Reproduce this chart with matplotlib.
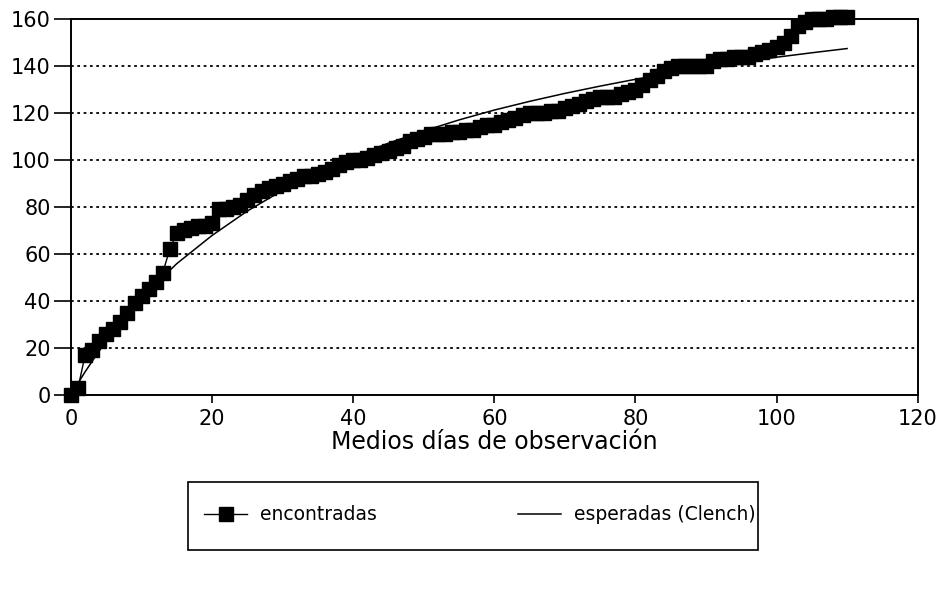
import numpy as np
import matplotlib

matplotlib.use("Agg")
import matplotlib.pyplot as plt
from matplotlib.patches import Rectangle

days = np.arange(0, 111)
found = [
    0, 3, 17, 19, 23, 26, 28, 31, 35, 39,
    42, 45, 48, 52, 62, 69, 70, 71, 72, 72,
    73, 79, 79, 80, 81, 83, 85, 87, 88, 89,
    90, 91, 92, 93, 93, 94, 95, 96, 98, 99,
    100, 100, 101, 102, 103, 104, 105, 106, 108, 109,
    110, 111, 111, 111, 112, 112, 113, 113, 114, 115,
    115, 116, 117, 118, 119, 120, 120, 120, 121, 121,
    122, 123, 124, 125, 126, 127, 127, 127, 128, 129,
    130, 132, 134, 136, 138, 139, 140, 140, 140, 140,
    140, 142, 143, 143, 144, 144, 144, 145, 146, 147,
    148, 150, 153, 157, 159, 160, 160, 160, 161, 161,
    161,
]

# Expected curve (Clench), read at a few abscissae
clench_x = [0, 1, 2, 3, 4, 5, 6, 8, 10, 12, 15, 20, 25, 30, 35, 40, 45,
            50, 55, 60, 65, 70, 75, 80, 85, 90, 95, 100, 105, 110]
clench_y = [0, 5.0, 9.8, 14.3, 18.7, 22.8, 26.8, 34.2, 41.0, 47.2, 55.9,
            67.9, 78.3, 87.1, 94.7, 101.4, 107.2, 112.4, 117.1, 121.3,
            125.0, 128.4, 131.5, 134.4, 137.0, 139.4, 141.7, 143.8,
            145.7, 147.5]

x_ticks = [0, 20, 40, 60, 80, 100, 120]
y_ticks = [0, 20, 40, 60, 80, 100, 120, 140, 160]

plt.rcParams["font.family"] = ["DejaVu Sans"]

W, H = 947, 600
fig = plt.figure(figsize=(W / 100, H / 100), dpi=100)
ax = fig.add_axes([0.075, 0.342, 0.894, 0.626])

# horizontal dotted gridlines
for yv in y_ticks[1:-1]:
    ax.axhline(yv, color="black", lw=1.3, ls=(0, (1.5, 2.0)), zorder=1)

ax.plot(days, found, color="black", lw=1.0, marker="s", markersize=10,
        markerfacecolor="black", markeredgecolor="black",
        clip_on=False, zorder=3, label="encontradas")
ax.plot(clench_x, clench_y, color="black", lw=1.1, zorder=4,
        label="esperadas (Clench)")

ax.set_xlim(0, 120)
ax.set_ylim(0, 160)
ax.set_xticks(x_ticks)
ax.set_yticks(y_ticks)
ax.tick_params(direction="out", width=1.2, labelsize=15, colors="black")
ax.tick_params(axis="y", length=12, pad=2.5)
ax.tick_params(axis="x", length=6, pad=4)
for sp in ax.spines.values():
    sp.set_linewidth(1.4)
    sp.set_color("black")
ax.set_xlabel("Medios días de observación", fontsize=17, labelpad=1)

# legend box drawn separately so its padding can be set per side
fig.patches.append(Rectangle((188 / W, 1 - 550 / H), 570 / W, 68 / H,
                             transform=fig.transFigure, fill=False,
                             edgecolor="black", lw=1.2))
fig.legend(loc="center", bbox_to_anchor=(480 / W, 1 - 515 / H), ncol=2,
           fontsize=13.5, frameon=False, handlelength=2.3,
           handletextpad=0.7, columnspacing=7.5)

fig.savefig("out.png", dpi=100)
